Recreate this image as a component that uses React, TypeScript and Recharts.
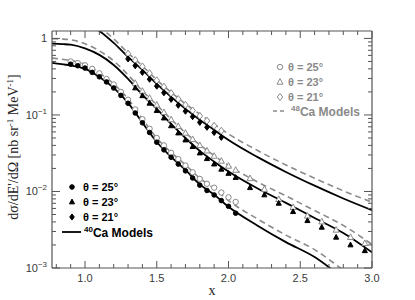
import { ComposedChart, Line, Scatter, XAxis, YAxis } from "recharts";

// model curves, sampled on a common x grid
const curveX = [0.77, 0.85, 0.9, 1.0, 1.1, 1.2, 1.3, 1.4, 1.5, 1.6, 1.7, 1.8, 1.9, 2.0, 2.2, 2.4, 2.6, 2.8, 3.0];
const ca40Model25 = [0.478, 0.457, 0.444, 0.4, 0.314, 0.226, 0.144, 0.079, 0.0443, 0.0283, 0.0191, 0.0124, 0.0091, 0.0063, 0.0036, 0.00218, 0.00139, 0.00074, 0.00041];
const ca40Model23 = [0.855, 0.842, 0.827, 0.74, 0.609, 0.45, 0.296, 0.183, 0.12, 0.0763, 0.05, 0.0339, 0.0245, 0.0182, 0.011, 0.0071, 0.0045, 0.00286, 0.0016];
const ca40Model21 = [1.95, 1.9, 1.85, 1.6, 1.25, 0.873, 0.573, 0.388, 0.254, 0.172, 0.12, 0.0862, 0.0636, 0.047, 0.0283, 0.018, 0.0119, 0.0081, 0.0057];
const ca48Model25 = [0.555, 0.531, 0.516, 0.46, 0.354, 0.255, 0.162, 0.089, 0.05, 0.0325, 0.0223, 0.0149, 0.0109, 0.0076, 0.0044, 0.00269, 0.00174, 0.00094, 0.00052];
const ca48Model23 = [0.99, 0.98, 0.96, 0.85, 0.687, 0.508, 0.334, 0.206, 0.135, 0.0877, 0.0585, 0.0406, 0.0294, 0.0218, 0.0134, 0.00876, 0.00563, 0.0036, 0.00203];
const ca48Model21 = [2.26, 2.2, 2.15, 1.84, 1.41, 0.985, 0.646, 0.438, 0.287, 0.198, 0.14, 0.1026, 0.0757, 0.0564, 0.0345, 0.0222, 0.0149, 0.0102, 0.00724];

// measured points
const pts25X = [0.9, 0.95, 1.0, 1.05, 1.1, 1.15, 1.2, 1.25, 1.3, 1.35, 1.4, 1.45, 1.5, 1.55, 1.6, 1.65, 1.7, 1.75, 1.8, 1.85, 1.9, 1.95, 2.0, 2.05];
const ca40Data25 = [0.46, 0.44, 0.41, 0.36, 0.315, 0.27, 0.225, 0.18, 0.142, 0.106, 0.079, 0.059, 0.044, 0.035, 0.028, 0.0228, 0.0186, 0.015, 0.0121, 0.0103, 0.009, 0.0076, 0.0064, 0.0052];
const ca48Data25 = [0.5, 0.475, 0.445, 0.4, 0.35, 0.295, 0.25, 0.2, 0.158, 0.118, 0.088, 0.066, 0.05, 0.04, 0.032, 0.0265, 0.0218, 0.0178, 0.0146, 0.0126, 0.0112, 0.0097, 0.0084, 0.0073];

const pts23X = [1.35, 1.4, 1.45, 1.5, 1.55, 1.6, 1.65, 1.7, 1.75, 1.8, 1.85, 1.9, 1.95, 2.0, 2.05, 2.15, 2.25, 2.35, 2.45, 2.55, 2.65, 2.75, 2.85, 2.95];
const ca40Data23 = [0.225, 0.178, 0.142, 0.114, 0.091, 0.072, 0.058, 0.047, 0.0385, 0.0318, 0.0268, 0.0228, 0.0195, 0.0172, 0.0152, 0.0112, 0.009, 0.007, 0.00544, 0.00415, 0.0034, 0.00252, 0.002, 0.00168];
const ca48Data23 = [0.26, 0.205, 0.166, 0.135, 0.108, 0.087, 0.071, 0.058, 0.048, 0.04, 0.034, 0.029, 0.025, 0.0215, 0.019, 0.0148, 0.0107, 0.0079, 0.0062, 0.00479, 0.00403, 0.00314, 0.00252, 0.0021];

const pts21X = [1.3, 1.35, 1.4, 1.45, 1.5, 1.55, 1.6, 1.65, 1.7, 1.75, 1.8, 1.85, 1.9, 1.95];
const ca40Data21 = [0.54, 0.44, 0.36, 0.293, 0.238, 0.195, 0.16, 0.134, 0.112, 0.095, 0.08, 0.069, 0.059, 0.051];
const ca48Data21 = [0.63, 0.52, 0.43, 0.35, 0.283, 0.233, 0.192, 0.161, 0.135, 0.114, 0.097, 0.084, 0.072, 0.062];

const xTicks = [0.8, 0.9, 1.0, 1.1, 1.2, 1.3, 1.4, 1.5, 1.6, 1.7, 1.8, 1.9, 2.0, 2.1, 2.2, 2.3, 2.4, 2.5, 2.6, 2.7, 2.8, 2.9, 3.0];
const yTicks = [
  0.001, 0.002, 0.003, 0.004, 0.005, 0.006, 0.007, 0.008, 0.009,
  0.01, 0.02, 0.03, 0.04, 0.05, 0.06, 0.07, 0.08, 0.09,
  0.1, 0.2, 0.3, 0.4, 0.5, 0.6, 0.7, 0.8, 0.9, 1,
];

const AXIS = "#555";
const GREY = "#8a8a8a";
const SANS = "'Liberation Sans', Arial, sans-serif";
const SERIF = "'Liberation Serif', 'Times New Roman', serif";

const toPoints = (xs: number[], ys: number[]) => xs.map((x, i) => ({ x, y: ys[i] }));

const isMajorX = (v: number) => Math.abs(v * 2 - Math.round(v * 2)) < 1e-6;
const isMajorY = (v: number) => Math.abs(Math.log10(v) - Math.round(Math.log10(v))) < 1e-6;

const BottomTick = ({ x, y, payload }: any) => {
  const major = isMajorX(payload.value);
  return (
    <g>
      <line x1={x} x2={x} y1={y} y2={y - (major ? 7 : 4)} stroke={AXIS} />
      {major && (
        <text x={x} y={y + 14} textAnchor="middle" fontSize={11} fontFamily={SANS} fill="#3a3a3a">
          {payload.value.toFixed(1)}
        </text>
      )}
    </g>
  );
};

const TopTick = ({ x, y, payload }: any) => (
  <line x1={x} x2={x} y1={y} y2={y + (isMajorX(payload.value) ? 7 : 4)} stroke={AXIS} />
);

const LeftTick = ({ x, y, payload }: any) => {
  const v = payload.value;
  const major = isMajorY(v);
  const exp = Math.round(Math.log10(v));
  return (
    <g>
      <line x1={x} x2={x + (major ? 8 : 4)} y1={y} y2={y} stroke={AXIS} />
      {major && (
        <text x={x - 5} y={y + 4} textAnchor="end" fontSize={11} fontFamily={SANS} fill="#3a3a3a">
          {exp === 0 ? (
            "1"
          ) : (
            <>
              10
              <tspan dy={-5} fontSize={8}>{`\u2212${-exp}`}</tspan>
            </>
          )}
        </text>
      )}
    </g>
  );
};

const RightTick = ({ x, y, payload }: any) => (
  <line x1={x} x2={x - (isMajorY(payload.value) ? 8 : 4)} y1={y} y2={y} stroke={AXIS} />
);

type Kind = "circle" | "triangle" | "diamond";

const Marker = ({ cx, cy, kind, open }: { cx: number; cy: number; kind: Kind; open: boolean }) => {
  const fill = open ? "#fff" : "#000";
  const stroke = open ? GREY : "#000";
  const s = open ? 1 : 0.85;
  if (kind === "circle") return <circle cx={cx} cy={cy} r={2.7 * s} fill={fill} stroke={stroke} strokeWidth={1} />;
  if (kind === "triangle")
    return (
      <polygon
        points={`${cx},${cy - 3.4 * s} ${cx + 3 * s},${cy + 2.2 * s} ${cx - 3 * s},${cy + 2.2 * s}`}
        fill={fill}
        stroke={stroke}
        strokeWidth={1}
      />
    );
  return (
    <polygon
      points={`${cx},${cy - 3.6 * s} ${cx + 2.7 * s},${cy} ${cx},${cy + 3.6 * s} ${cx - 2.7 * s},${cy}`}
      fill={fill}
      stroke={stroke}
      strokeWidth={1}
    />
  );
};

const shapeOf = (kind: Kind, open: boolean) => (props: any) =>
  <Marker cx={props.cx} cy={props.cy} kind={kind} open={open} />;

const Legends = () => (
  <svg width={415} height={300} style={{ position: "absolute", left: 0, top: 0, pointerEvents: "none" }}>
    <text
      transform="translate(18,147) rotate(-90)"
      textAnchor="middle"
      fontSize={14}
      fontFamily={SERIF}
      fill="#222"
    >
      dσ/dE'/dΩ [nb sr<tspan dy={-5} fontSize={9}>-1</tspan>
      <tspan dy={5}> MeV</tspan>
      <tspan dy={-5} fontSize={9}>-1</tspan>
      <tspan dy={5}>]</tspan>
    </text>
    <text x={212} y={295} textAnchor="middle" fontSize={14} fontFamily={SERIF} fill="#222">
      x
    </text>

    {/* 40Ca legend */}
    <Marker cx={72} cy={187} kind="circle" open={false} />
    <Marker cx={72} cy={202} kind="triangle" open={false} />
    <Marker cx={72} cy={217} kind="diamond" open={false} />
    <line x1={62} x2={81} y1={232} y2={232} stroke="#000" strokeWidth={1.8} />
    <g fontFamily={SANS} fontSize={11} fontWeight="bold" fill="#000">
      <text x={83} y={191}>θ = 25°</text>
      <text x={83} y={206}>θ = 23°</text>
      <text x={83} y={221}>θ = 21°</text>
      <text x={84} y={237} fontSize={12}>
        <tspan fontSize={8} dy={-5}>40</tspan>
        <tspan dy={5}>Ca Models</tspan>
      </text>
    </g>

    {/* 48Ca legend */}
    <Marker cx={280} cy={67} kind="circle" open={true} />
    <Marker cx={280} cy={82} kind="triangle" open={true} />
    <Marker cx={280} cy={97} kind="diamond" open={true} />
    <line x1={273} x2={284} y1={111} y2={111} stroke={GREY} strokeWidth={1.6} strokeDasharray="4 3" />
    <g fontFamily={SANS} fontSize={11} fontWeight="bold" fill={GREY}>
      <text x={288} y={71}>θ = 25°</text>
      <text x={288} y={86}>θ = 23°</text>
      <text x={288} y={101}>θ = 21°</text>
      <text x={291} y={116} fontSize={12}>
        <tspan fontSize={8} dy={-5}>48</tspan>
        <tspan dy={5}>Ca Models</tspan>
      </text>
    </g>
  </svg>
);

const solidModels = [ca40Model25, ca40Model23, ca40Model21];
const dashedModels = [ca48Model25, ca48Model23, ca48Model21];

export default function App() {
  return (
    <div style={{ position: "absolute", left: 0, top: 0, width: 415, height: 300, background: "#fff" }}>
      <ComposedChart width={415} height={300} margin={{ top: 0, right: 0, bottom: 0, left: 0 }}>
        <XAxis
          dataKey="x"
          type="number"
          domain={[0.77, 3]}
          allowDataOverflow
          ticks={xTicks}
          interval={0}
          height={32}
          tickSize={0}
          tickMargin={0}
          tickLine={false}
          axisLine={{ stroke: AXIS, strokeWidth: 1.2 }}
          tick={<BottomTick />}
        />
        <XAxis
          xAxisId="top"
          orientation="top"
          dataKey="x"
          type="number"
          domain={[0.77, 3]}
          allowDataOverflow
          ticks={xTicks}
          interval={0}
          height={31}
          tickSize={0}
          tickMargin={0}
          tickLine={false}
          axisLine={{ stroke: AXIS, strokeWidth: 1.2 }}
          tick={<TopTick />}
        />
        <YAxis
          dataKey="y"
          type="number"
          scale="log"
          domain={[0.001, 1.25]}
          allowDataOverflow
          ticks={yTicks}
          interval={0}
          width={52}
          tickSize={0}
          tickMargin={0}
          tickLine={false}
          axisLine={{ stroke: AXIS, strokeWidth: 1.2 }}
          tick={<LeftTick />}
        />
        <YAxis
          yAxisId="right"
          orientation="right"
          dataKey="y"
          type="number"
          scale="log"
          domain={[0.001, 1.25]}
          allowDataOverflow
          ticks={yTicks}
          interval={0}
          width={43}
          tickSize={0}
          tickMargin={0}
          tickLine={false}
          axisLine={{ stroke: AXIS, strokeWidth: 1.2 }}
          tick={<RightTick />}
        />

        {solidModels.map((ys, i) => (
          <Line
            key={`s${i}`}
            data={toPoints(curveX, ys)}
            dataKey="y"
            type="monotone"
            stroke="#000"
            strokeWidth={1.8}
            dot={false}
            isAnimationActive={false}
          />
        ))}
        {dashedModels.map((ys, i) => (
          <Line
            key={`d${i}`}
            data={toPoints(curveX, ys)}
            dataKey="y"
            type="monotone"
            stroke={GREY}
            strokeWidth={1.6}
            strokeDasharray="6 4"
            dot={false}
            isAnimationActive={false}
          />
        ))}

        <Scatter data={toPoints(pts25X, ca48Data25)} dataKey="y" shape={shapeOf("circle", true)} isAnimationActive={false} />
        <Scatter data={toPoints(pts23X, ca48Data23)} dataKey="y" shape={shapeOf("triangle", true)} isAnimationActive={false} />
        <Scatter data={toPoints(pts21X, ca48Data21)} dataKey="y" shape={shapeOf("diamond", true)} isAnimationActive={false} />
        <Scatter data={toPoints(pts25X, ca40Data25)} dataKey="y" shape={shapeOf("circle", false)} isAnimationActive={false} />
        <Scatter data={toPoints(pts23X, ca40Data23)} dataKey="y" shape={shapeOf("triangle", false)} isAnimationActive={false} />
        <Scatter data={toPoints(pts21X, ca40Data21)} dataKey="y" shape={shapeOf("diamond", false)} isAnimationActive={false} />
      </ComposedChart>
      <Legends />
    </div>
  );
}
